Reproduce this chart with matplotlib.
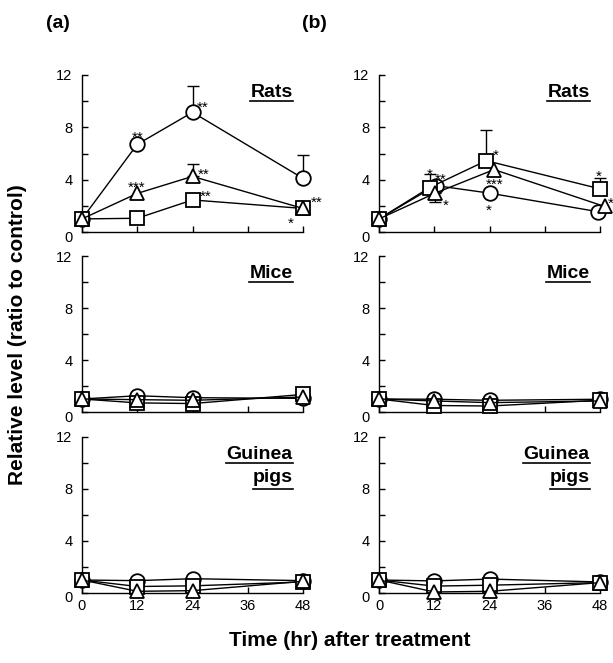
import matplotlib
matplotlib.use('Agg')
import matplotlib.pyplot as plt
import matplotlib.transforms as mtransforms
from matplotlib.lines import Line2D

plt.rcParams['font.family'] = ['Liberation Sans', 'DejaVu Sans']

# ---------------- data ----------------
hours = [0, 12, 24, 48]
x_ticks = [0, 12, 24, 36, 48]
y_ticks = [0, 4, 8, 12]
y_minor = [2, 6, 10]

# (a) Rats
a_rats_circle = [1.0, 6.7, 9.15, 4.1]
a_rats_square = [1.0, 1.05, 2.45, 1.8]
a_rats_triangle = [1.0, 2.95, 4.25, 1.8]
a_rats_circle_err_up = [0, 0, 2.0, 1.75]
a_rats_triangle_err_up = [0, 0, 0.95, 0]
# (a) Mice
a_mice_circle = [1.0, 1.25, 1.1, 1.05]
a_mice_square = [1.0, 0.7, 0.65, 1.35]
a_mice_triangle = [1.0, 0.95, 0.9, 1.15]
# (a) Guinea pigs
a_gp_circle = [1.0, 0.95, 1.1, 0.95]
a_gp_square = [1.0, 0.5, 0.55, 0.85]
a_gp_triangle = [1.0, 0.13, 0.18, 0.9]

# (b) Rats (points are slightly staggered in time in the original)
b_rats_circle_hours = [0, 12.3, 24, 47.6]
b_rats_square_hours = [0, 11, 23.3, 48]
b_rats_triangle_hours = [0, 12.2, 25, 49]
b_rats_circle = [1.0, 3.55, 2.97, 1.55]
b_rats_square = [1.0, 3.4, 5.45, 3.3]
b_rats_triangle = [1.0, 2.97, 4.77, 1.95]
b_rats_square_err_up = [0, 1.0, 2.35, 0.85]
b_rats_triangle_err_down = [0, 0.65, 0, 0]
# (b) Mice
b_mice_circle = [1.0, 0.98, 0.9, 0.98]
b_mice_square = [1.0, 0.5, 0.46, 0.9]
b_mice_triangle = [1.0, 0.85, 0.72, 0.85]
# (b) Guinea pigs
b_gp_circle = [1.0, 0.93, 1.07, 0.85]
b_gp_square = [1.0, 0.53, 0.6, 0.8]
b_gp_triangle = [1.0, 0.08, 0.13, 0.8]

species = ['Rats', 'Mice', 'Guinea\npigs']

# significance marks: (series, index, text, dx_px, dy_px of glyph centre)
a_rats_marks = [('o', 1, '**', 0, 11), ('o', 2, '**', 10, 9),
                ('^', 1, '***', -1, 10.5), ('^', 2, '**', 11, 6),
                ('s', 2, '**', 13.5, 8.4), ('s', 3, '*', -12.4, -11),
                ('^', 3, '**', 13.5, 10.6)]
b_rats_marks = [('s', 1, '*', 0.4, 17.7), ('o', 1, '**', 5, 11),
                ('^', 1, '*', 10.8, -7.7), ('s', 2, '*', 9, 10),
                ('^', 2, '***', 0.9, -10.5), ('o', 2, '*', -0.5, -13.3),
                ('s', 3, '*', -1, 17.3), ('^', 3, '*', 6.4, 7.7)]

# ---------------- figure ----------------
W, H = 613, 663
fig = plt.figure(figsize=(W / 100, H / 100), dpi=100)


def px_axes(left, top, right, bottom):
    return [left / W, 1 - bottom / H, (right - left) / W, (bottom - top) / H]


cols = [(82, 303), (379, 600)]
rows = [(75, 232), (256, 412), (437, 593)]

panel_data = {
    0: [
        dict(x=[hours, hours, hours],
             o=a_rats_circle, s=a_rats_square, t=a_rats_triangle,
             err=[('o', a_rats_circle_err_up, 'up'), ('^', a_rats_triangle_err_up, 'up')],
             marks=a_rats_marks),
        dict(x=[hours, hours, hours],
             o=a_mice_circle, s=a_mice_square, t=a_mice_triangle, err=[], marks=[]),
        dict(x=[hours, hours, hours],
             o=a_gp_circle, s=a_gp_square, t=a_gp_triangle, err=[], marks=[]),
    ],
    1: [
        dict(x=[b_rats_circle_hours, b_rats_square_hours, b_rats_triangle_hours],
             o=b_rats_circle, s=b_rats_square, t=b_rats_triangle,
             err=[('s', b_rats_square_err_up, 'up'), ('^', b_rats_triangle_err_down, 'down')],
             marks=b_rats_marks),
        dict(x=[hours, hours, hours],
             o=b_mice_circle, s=b_mice_square, t=b_mice_triangle, err=[], marks=[]),
        dict(x=[hours, hours, hours],
             o=b_gp_circle, s=b_gp_square, t=b_gp_triangle, err=[], marks=[]),
    ],
}

line_kw = dict(color='black', lw=1.0, markersize=10.5, markerfacecolor='white',
               markeredgecolor='black', markeredgewidth=1.3, clip_on=False)

species_texts = []
for c, (xl, xr) in enumerate(cols):
    for r, (yt, yb) in enumerate(rows):
        ax = fig.add_axes(px_axes(xl, yt, xr, yb))
        d = panel_data[c][r]
        series = {'o': (d['x'][0], d['o']), 's': (d['x'][1], d['s']),
                  '^': (d['x'][2], d['t'])}
        # error bars first (under markers)
        for key, err, direction in d['err']:
            xv, vals = series[key]
            idx = [i for i, e in enumerate(err) if e > 0]
            xs = [xv[i] for i in idx]
            ys = [vals[i] for i in idx]
            es = [err[i] for i in idx]
            zeros = [0] * len(es)
            yerr = [zeros, es] if direction == 'up' else [es, zeros]
            ax.errorbar(xs, ys, yerr=yerr, fmt='none', ecolor='black',
                        elinewidth=1.0, capsize=4, capthick=1.0, zorder=2,
                        clip_on=False)
        for z, key in enumerate(['o', 's', '^']):
            xv, vals = series[key]
            ax.plot(xv, vals, marker=key, zorder=3 + 0.1 * z, **line_kw)

        for key, i, txt, dx, dy in d['marks']:
            xv, vals = series[key]
            ax.annotate(txt, xy=(xv[i], vals[i]),
                        xytext=(dx * 0.72, (dy - 8.8) * 0.72),
                        textcoords='offset points', ha='center', va='baseline',
                        fontsize=11, zorder=5, annotation_clip=False)

        ax.set_xlim(0, 48)
        ax.set_ylim(0, 12)
        ax.set_xticks(x_ticks)
        ax.set_yticks(y_ticks)
        ax.set_yticks(y_minor, minor=True)
        for s in ['top', 'right']:
            ax.spines[s].set_visible(False)
        for s in ['left', 'bottom']:
            ax.spines[s].set_linewidth(1.0)
        ax.tick_params(axis='y', which='both', direction='in', length=4,
                       width=1.0, labelsize=10.5, pad=7)
        ax.tick_params(axis='x', which='both', direction='in', length=4,
                       width=1.0, labelsize=10.5, pad=4)
        if r < 2:
            ax.set_xticklabels([])
        # shift the '0' y label slightly down
        t0 = ax.yaxis.get_major_ticks()[0].label1
        t0.set_transform(t0.get_transform() +
                         mtransforms.ScaledTranslation(0, -4 / 100, fig.dpi_scale_trans))

        lines = species[r].split('\n')
        t1 = ax.text(0.953, 0.86, lines[0], transform=ax.transAxes, ha='right',
                     va='baseline', fontsize=14, fontweight='bold')
        species_texts.append((t1, 4))
        if len(lines) > 1:
            t2 = ax.text(0.953, 0.712, lines[1], transform=ax.transAxes, ha='right',
                         va='baseline', fontsize=14, fontweight='bold')
            species_texts.append((t2, 7))

fig.text(58 / W, 1 - 23 / H, '(a)', ha='center', va='center', fontsize=14,
         fontweight='bold')
fig.text(314 / W, 1 - 23 / H, '(b)', ha='center', va='center', fontsize=14,
         fontweight='bold')
fig.text(18 / W, 1 - 335 / H, 'Relative level (ratio to control)', rotation=90,
         ha='center', va='center', fontsize=15, fontweight='bold')
fig.text(350 / W, 1 - 641 / H, 'Time (hr) after treatment', ha='center',
         va='center', fontsize=15, fontweight='bold')

# underlines for species labels
fig.canvas.draw()
renderer = fig.canvas.get_renderer()
for t, off in species_texts:
    bb = t.get_window_extent(renderer)
    _, ybase = t.get_transform().transform(t.get_position())
    y = ybase - off
    fig.add_artist(Line2D([bb.x0 / W, bb.x1 / W], [y / H, y / H],
                          transform=fig.transFigure, color='black', lw=1.2))

fig.savefig('out.png', dpi=100)
